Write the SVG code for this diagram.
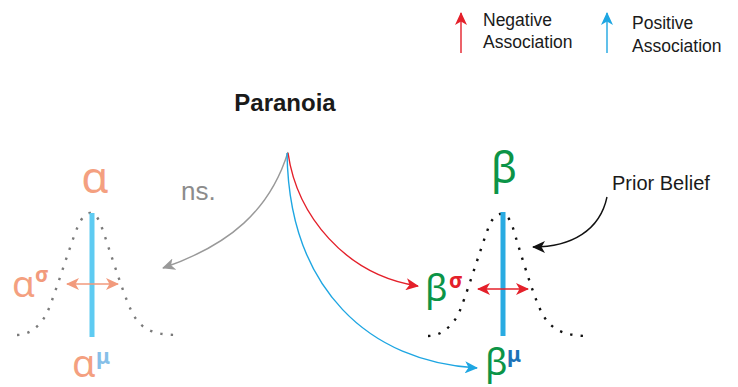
<svg xmlns="http://www.w3.org/2000/svg" width="738" height="387" viewBox="0 0 738 387">
<style>
.t{font-family:"Liberation Sans","Noto Sans",sans-serif;fill:#1a1a1a}
.g{font-family:"Noto Sans","Liberation Sans",sans-serif}
.sup{font-family:"Noto Sans","Liberation Sans",sans-serif;font-weight:bold}
.dots{fill:none;stroke-width:2.4;stroke-dasharray:2.4 8.2}
.c{fill:none;stroke-width:1.4}
</style>
<defs>
<marker id="mRed" markerUnits="userSpaceOnUse" markerWidth="14" markerHeight="12" refX="12" refY="6" orient="auto-start-reverse"><path d="M0,0 L13,6 L0,12 L3.5,6 z" fill="#e4202a"/></marker>
<marker id="mBlue" markerUnits="userSpaceOnUse" markerWidth="14" markerHeight="12" refX="12" refY="6" orient="auto"><path d="M0,0 L13,6 L0,12 L3.5,6 z" fill="#1ea6e2"/></marker>
<marker id="mGray" markerUnits="userSpaceOnUse" markerWidth="14" markerHeight="12" refX="12" refY="6" orient="auto"><path d="M0,0 L13,6 L0,12 L3.5,6 z" fill="#999999"/></marker>
<marker id="mBlack" markerUnits="userSpaceOnUse" markerWidth="14" markerHeight="12" refX="12" refY="6" orient="auto"><path d="M0,0 L13,6 L0,12 L3.5,6 z" fill="#111111"/></marker>
<marker id="mSal" markerUnits="userSpaceOnUse" markerWidth="14" markerHeight="12" refX="12" refY="6" orient="auto-start-reverse"><path d="M0,0 L13,6 L0,12 L3.5,6 z" fill="#f29a7c"/></marker>
</defs>

<g id="legend">
<line x1="461" y1="53" x2="461" y2="13" stroke="#e4202a" stroke-width="1.4" marker-end="url(#mRed)"/>
<text class="t" x="483" y="26" font-size="17.5">Negative</text>
<text class="t" x="483" y="48" font-size="17.5">Association</text>
<line x1="607" y1="53" x2="607" y2="13" stroke="#1ea6e2" stroke-width="1.4" marker-end="url(#mBlue)"/>
<text class="t" x="632" y="29" font-size="17.5">Positive</text>
<text class="t" x="632" y="52" font-size="17.5">Association</text>
</g>

<g id="paranoia">
<text class="t" x="285" y="111" font-size="24" font-weight="bold" text-anchor="middle" fill="#000">Paranoia</text>
</g>

<g id="alpha">
<path class="dots" stroke="#7a7a7a" d="M17,335 C30,335 40,326 47,313 C55,295 70,245 78,226 C82,217 86,213 90,213 C95,213 98,217 102,228 C108,245 122,290 130,308 C138,326 148,335 178,335"/>
<rect x="89.5" y="213" width="5" height="124" fill="#5ecbf2"/>
<line x1="67" y1="284" x2="118" y2="284" stroke="#f29a7c" stroke-width="1.6" marker-start="url(#mSal)" marker-end="url(#mSal)"/>
<text class="g" x="95" y="193" font-size="44" text-anchor="middle" fill="#f4a080">α</text>
<text class="g" x="12" y="297" font-size="37" fill="#f4a080">α</text>
<text class="sup" x="35" y="282" font-size="21" fill="#f29a7c">σ</text>
<text class="g" x="72" y="377" font-size="38" fill="#f4a080">α</text>
<text class="sup" x="96" y="364" font-size="21" fill="#86bfe8">μ</text>
</g>

<g id="beta">
<path class="dots" stroke="#111" d="M428,336 C441,336 451,327 458,315 C465,300 480,250 489,226 C493,217 497,214 500,214 C506,214 510,218 513,228 C519,248 532,292 540,309 C547,325 558,336 588,336"/>
<rect x="500.5" y="212" width="5" height="124" fill="#29abe2"/>
<line x1="478" y1="289" x2="528" y2="289" stroke="#e4202a" stroke-width="1.6" marker-start="url(#mRed)" marker-end="url(#mRed)"/>
<text class="g" x="504" y="183" font-size="43" text-anchor="middle" fill="#0c9447">β</text>
<text class="g" x="425" y="301" font-size="37" fill="#0c9447">β</text>
<text class="sup" x="449" y="288" font-size="21" fill="#e4202a">σ</text>
<text class="g" x="485" y="375" font-size="37" fill="#0c9447">β</text>
<text class="sup" x="507" y="362" font-size="21" fill="#1c72b8">μ</text>
</g>

<g id="prior">
<text class="t" x="612" y="190" font-size="20">Prior Belief</text>
</g>

<g id="connectors">
<path class="c" stroke="#999999" d="M288,152 C270,210 230,245 163,268" marker-end="url(#mGray)"/>
<path class="c" stroke="#e4202a" d="M288,153 C297,215 345,275 418,286" marker-end="url(#mRed)"/>
<path class="c" stroke="#1ea6e2" d="M287,153 C289,290 370,362 477,368" marker-end="url(#mBlue)"/>
<path class="c" stroke="#111111" d="M607,197 C600,230 572,247 533,247" marker-end="url(#mBlack)"/>
<text class="t" x="181" y="200" font-size="26" style="fill:#8c8c8c">ns.</text>
</g>
</svg>
